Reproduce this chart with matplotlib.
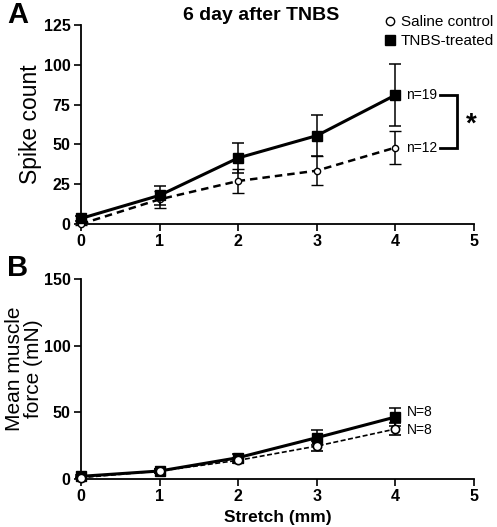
import matplotlib
matplotlib.use("Agg")
import matplotlib.pyplot as plt
from matplotlib.lines import Line2D

plt.rcParams['font.family'] = ['Liberation Sans', 'DejaVu Sans']

stretch = [0, 1, 2, 3, 4]
xticks = [0, 1, 2, 3, 4, 5]

# Panel A: spike count
spike_tnbs = [3.5, 18, 41.5, 55.5, 81]
spike_tnbs_err = [1.5, 6, 9.5, 13, 19.5]
spike_saline = [0, 15.5, 27, 33.5, 48]
spike_saline_err = [0.5, 5.5, 7.5, 9.3, 10.5]

# Panel B: muscle force
force_tnbs = [2, 6, 16, 31, 46.5]
force_tnbs_err = [1, 1.5, 2.5, 5.5, 6.5]
force_saline = [1, 6, 14, 24.7, 37.5]
force_saline_err = [0.5, 1.2, 2, 3.5, 4.6]

fig = plt.figure(figsize=(4.97, 5.27), dpi=100)
W, H = 497, 527
def rect(l, t, r, b):
    return [l / W, 1 - b / H, (r - l) / W, (b - t) / H]

axA = fig.add_axes(rect(81, 25, 474, 224))
axB = fig.add_axes(rect(81, 279, 474, 479))

for ax in (axA, axB):
    ax.spines['top'].set_visible(False)
    ax.spines['right'].set_visible(False)
    ax.spines['left'].set_linewidth(1.3)
    ax.spines['bottom'].set_linewidth(1.3)
    ax.set_xlim(0, 5)
    ax.set_xticks(xticks)
    ax.tick_params(width=1.2, length=5, labelsize=11.5, pad=2.5)

# Panel A
axA.set_ylim(0, 125)
axA.set_yticks([0, 25, 50, 75, 100, 125])
axA.errorbar(stretch, spike_saline, yerr=spike_saline_err, fmt='o', mfc='white', mec='black',
             ms=4.5, mew=1, ecolor='black', elinewidth=1.1, capsize=4, capthick=1.1,
             ls=(0, (3, 2)), lw=1.8, color='black', clip_on=False, zorder=3)
axA.errorbar(stretch, spike_tnbs, yerr=spike_tnbs_err, fmt='s', mfc='black', mec='black',
             ms=6.5, ecolor='black', elinewidth=1.1, capsize=4, capthick=1.1,
             ls='-', lw=2.2, color='black', clip_on=False, zorder=4)
axA.set_ylabel('Spike count', fontsize=16.5, labelpad=1)
fig.text(261 / W, 1 - 16 / H, '6 day after TNBS', ha='center', va='center',
         fontsize=14, fontweight='bold')
axA.text(4.14, spike_tnbs[4], 'n=19', fontsize=10, va='center', ha='left')
axA.text(4.14, spike_saline[4], 'n=12', fontsize=10, va='center', ha='left')
bx0, bx1 = 4.57, 4.78
axA.plot([bx0, bx1, bx1, bx0], [spike_tnbs[4], spike_tnbs[4], spike_saline[4], spike_saline[4]],
         color='black', lw=2, clip_on=False, solid_joinstyle='miter')
axA.text(4.96, (spike_tnbs[4] + spike_saline[4]) / 2 - 2, '*', fontsize=20, fontweight='bold',
         ha='center', va='center')

# Legend
leg_handles = [
    Line2D([], [], marker='o', ls='none', mfc='white', mec='black', ms=6, mew=1),
    Line2D([], [], marker='s', ls='none', mfc='black', mec='black', ms=7),
]
fig.legend(leg_handles, ['Saline control', 'TNBS-treated'], loc='upper left',
           bbox_to_anchor=(385 / W, 1 - 15 / H), frameon=False, fontsize=11,
           handlelength=0.6, handletextpad=0.45, labelspacing=0.35, borderpad=0, borderaxespad=0)

# Panel B
axB.set_ylim(0, 150)
axB.set_yticks([0, 50, 100, 150])
axB.errorbar(stretch, force_saline, yerr=force_saline_err, fmt='o', mfc='white', mec='black',
             ms=6, mew=1.2, ecolor='black', elinewidth=1.1, capsize=4, capthick=1.1,
             ls=(0, (3, 1.5)), lw=1.2, color='black', clip_on=False, zorder=4)
axB.errorbar(stretch, force_tnbs, yerr=force_tnbs_err, fmt='s', mfc='black', mec='black',
             ms=6.5, ecolor='black', elinewidth=1.1, capsize=4, capthick=1.1,
             ls='-', lw=2.2, color='black', clip_on=False, zorder=3)
fig.text(24 / W, 1 - 369 / H, 'Mean muscle\nforce (mN)', fontsize=15, linespacing=1.0,
         rotation=90, ha='center', va='center', multialignment='center')
axB.set_xlabel('Stretch (mm)', fontsize=12.5, fontweight='bold', labelpad=4)
axB.text(4.14, force_tnbs[4] + 4, 'N=8', fontsize=10, va='center', ha='left')
axB.text(4.14, force_saline[4] - 1, 'N=8', fontsize=10, va='center', ha='left')

for ax in (axA, axB):
    for lab in ax.get_xticklabels() + ax.get_yticklabels():
        lab.set_fontweight('bold')

fig.text(7 / W, 1 - 15 / H, 'A', fontsize=21, fontweight='bold', va='center', ha='left')
fig.text(7 / W, 1 - 268 / H, 'B', fontsize=21, fontweight='bold', va='center', ha='left')

fig.savefig('out.png', dpi=100)
